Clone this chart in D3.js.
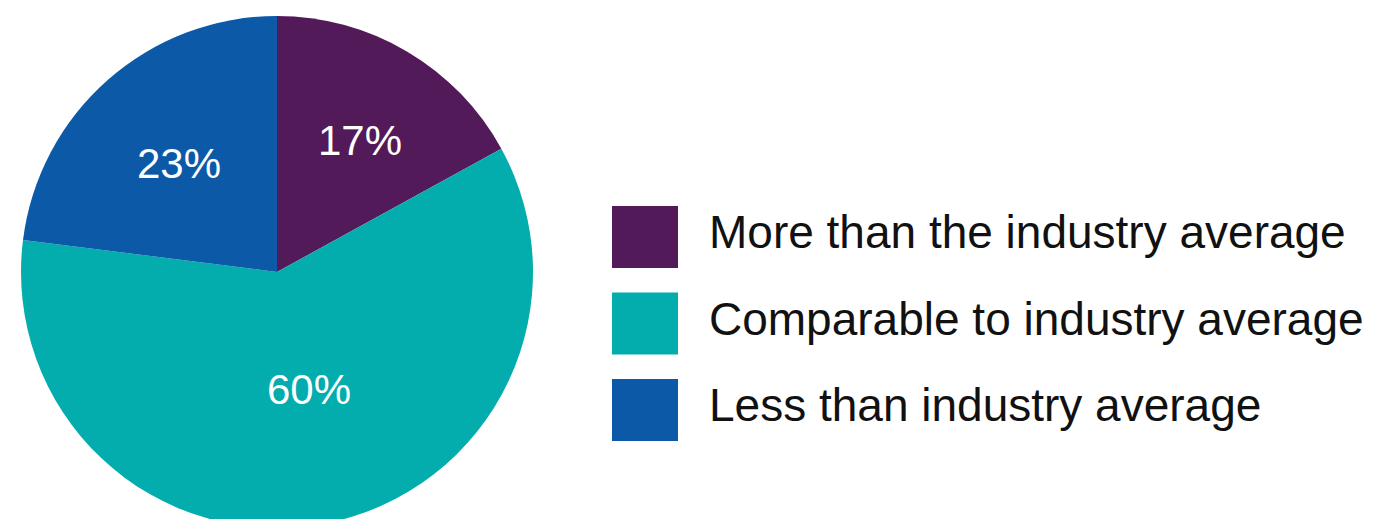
<!DOCTYPE html>
<html>
<head>
<meta charset="utf-8">
<script src="https://cdn.jsdelivr.net/npm/d3@7"></script>
<style>
  html, body { margin: 0; padding: 0; background: #ffffff; }
  svg { display: block; }
</style>
</head>
<body>
<svg id="chart" width="1374" height="519"></svg>
<script>
const categories = ["More than the industry average", "Comparable to industry average", "Less than industry average"];
const values = [17, 60, 23];
const labels = ["17%", "60%", "23%"];
const colors = ["#521a59", "#03adad", "#0b59a7"];

const svg = d3.select("#chart");
const cx = 277, cy = 272, r = 256;

const pie = d3.pie().sort(null).value(d => d)(values);
const arc = d3.arc().innerRadius(0).outerRadius(r);

const g = svg.append("g").attr("transform", `translate(${cx},${cy})`);
g.selectAll("path").data(pie).join("path")
  .attr("d", arc)
  .attr("fill", (d, i) => colors[i]);

const labelArc = d3.arc().innerRadius(r * 0.5).outerRadius(r * 0.5);
const labelPos = [[83, -117], [32, 132], [-98, -94]];
g.selectAll("text.lbl").data(pie).join("text")
  .attr("class", "lbl")
  .attr("x", (d, i) => labelPos[i][0])
  .attr("y", (d, i) => labelPos[i][1])
  .attr("text-anchor", "middle")
  .attr("fill", "#ffffff")
  .attr("font-family", "Liberation Sans, Arial, sans-serif")
  .attr("font-size", 42)
  .text((d, i) => labels[i]);

const legend = svg.append("g").attr("transform", "translate(612,206)");
const item = legend.selectAll("g").data(categories).join("g")
  .attr("transform", (d, i) => `translate(0,${i * 86.5})`);
item.append("rect")
  .attr("width", 66).attr("height", 62)
  .attr("fill", (d, i) => colors[i]);
item.append("text")
  .attr("x", 97).attr("y", 42)
  .attr("fill", "#111111")
  .attr("font-family", "Liberation Sans, Arial, sans-serif")
  .attr("font-size", 46)
  .text(d => d);
</script>
</body>
</html>
